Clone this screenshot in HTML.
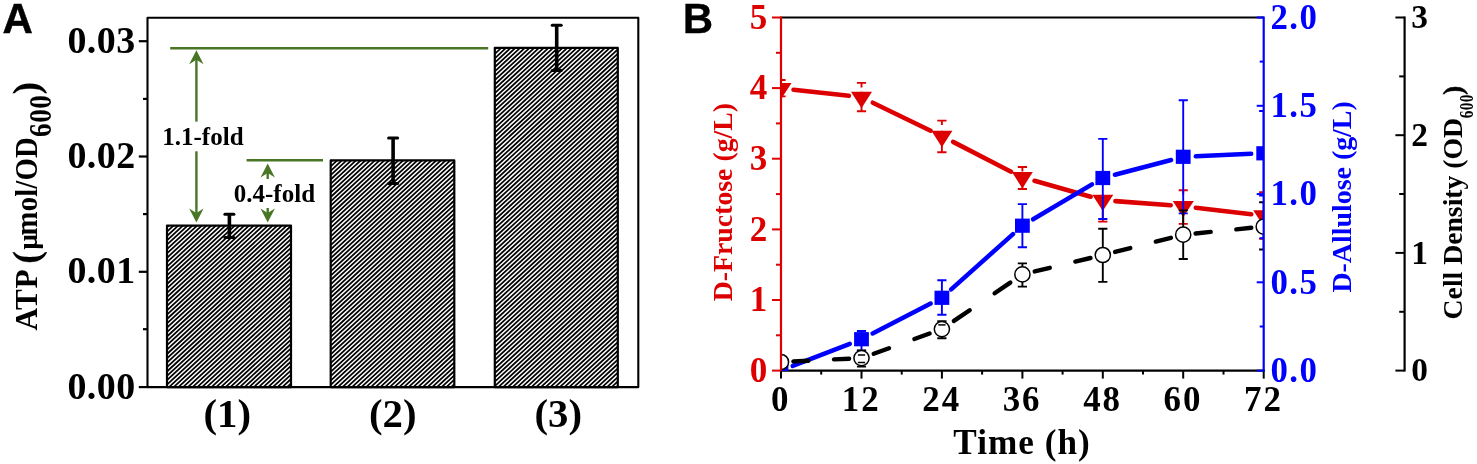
<!DOCTYPE html>
<html lang="en"><head><meta charset="utf-8"><title>Figure</title>
<style>
html,body{margin:0;padding:0;background:#fff;}
body{width:1477px;height:464px;overflow:hidden;}
svg{display:block;}
text{font-family:"Liberation Serif","Times New Roman",serif;font-weight:bold;}
.sans{font-family:"Liberation Sans",Arial,sans-serif;font-weight:bold;}
</style></head><body>
<svg width="1477" height="464" viewBox="0 0 1477 464">
<defs>
<clipPath id="clipB"><rect x="781" y="10" width="482.7" height="361"/></clipPath>
</defs>
<rect width="1477" height="464" fill="#fff"/>
<g id="panelA">
<text class="sans" x="2.4" y="32.8" font-size="42" stroke="#000" stroke-width="0.5">A</text>
<rect x="167" y="225.6" width="124.0" height="161.5" fill="#fff"/>
<path d="M167.0,227.2L168.7,225.6M167.0,231.6L173.5,225.6M167.0,236.0L178.2,225.6M167.0,240.3L182.9,225.6M167.0,244.7L187.6,225.6M167.0,249.1L192.3,225.6M167.0,253.4L197.1,225.6M167.0,257.8L201.8,225.6M167.0,262.2L206.5,225.6M167.0,266.6L211.2,225.6M167.0,270.9L215.9,225.6M167.0,275.3L220.7,225.6M167.0,279.7L225.4,225.6M167.0,284.0L230.1,225.6M167.0,288.4L234.8,225.6M167.0,292.8L239.5,225.6M167.0,297.1L244.3,225.6M167.0,301.5L249.0,225.6M167.0,305.9L253.7,225.6M167.0,310.3L258.4,225.6M167.0,314.6L263.1,225.6M167.0,319.0L267.9,225.6M167.0,323.4L272.6,225.6M167.0,327.7L277.3,225.6M167.0,332.1L282.0,225.6M167.0,336.5L286.7,225.6M167.0,340.9L291.0,226.0M167.0,345.2L291.0,230.4M167.0,349.6L291.0,234.8M167.0,354.0L291.0,239.1M167.0,358.3L291.0,243.5M167.0,362.7L291.0,247.9M167.0,367.1L291.0,252.3M167.0,371.5L291.0,256.6M167.0,375.8L291.0,261.0M167.0,380.2L291.0,265.4M167.0,384.6L291.0,269.7M169.0,387.1L291.0,274.1M173.7,387.1L291.0,278.5M178.4,387.1L291.0,282.9M183.1,387.1L291.0,287.2M187.9,387.1L291.0,291.6M192.6,387.1L291.0,296.0M197.3,387.1L291.0,300.3M202.0,387.1L291.0,304.7M206.7,387.1L291.0,309.1M211.5,387.1L291.0,313.4M216.2,387.1L291.0,317.8M220.9,387.1L291.0,322.2M225.6,387.1L291.0,326.6M230.3,387.1L291.0,330.9M235.1,387.1L291.0,335.3M239.8,387.1L291.0,339.7M244.5,387.1L291.0,344.0M249.2,387.1L291.0,348.4M253.9,387.1L291.0,352.8M258.7,387.1L291.0,357.2M263.4,387.1L291.0,361.5M268.1,387.1L291.0,365.9M272.8,387.1L291.0,370.3M277.5,387.1L291.0,374.6M282.3,387.1L291.0,379.0M287.0,387.1L291.0,383.4" stroke="#000" stroke-width="1.75" fill="none"/>
<rect x="167" y="225.6" width="124.0" height="161.5" fill="none" stroke="#000" stroke-width="2.2" stroke-linejoin="round"/>
<rect x="330.7" y="160.4" width="123.6" height="226.7" fill="#fff"/>
<path d="M330.7,162.0L332.4,160.4M330.7,166.4L337.2,160.4M330.7,170.8L341.9,160.4M330.7,175.1L346.6,160.4M330.7,179.5L351.3,160.4M330.7,183.9L356.0,160.4M330.7,188.2L360.8,160.4M330.7,192.6L365.5,160.4M330.7,197.0L370.2,160.4M330.7,201.4L374.9,160.4M330.7,205.7L379.6,160.4M330.7,210.1L384.4,160.4M330.7,214.5L389.1,160.4M330.7,218.8L393.8,160.4M330.7,223.2L398.5,160.4M330.7,227.6L403.2,160.4M330.7,231.9L408.0,160.4M330.7,236.3L412.7,160.4M330.7,240.7L417.4,160.4M330.7,245.1L422.1,160.4M330.7,249.4L426.8,160.4M330.7,253.8L431.6,160.4M330.7,258.2L436.3,160.4M330.7,262.5L441.0,160.4M330.7,266.9L445.7,160.4M330.7,271.3L450.4,160.4M330.7,275.7L454.3,161.2M330.7,280.0L454.3,165.6M330.7,284.4L454.3,169.9M330.7,288.8L454.3,174.3M330.7,293.1L454.3,178.7M330.7,297.5L454.3,183.1M330.7,301.9L454.3,187.4M330.7,306.3L454.3,191.8M330.7,310.6L454.3,196.2M330.7,315.0L454.3,200.5M330.7,319.4L454.3,204.9M330.7,323.7L454.3,209.3M330.7,328.1L454.3,213.7M330.7,332.5L454.3,218.0M330.7,336.8L454.3,222.4M330.7,341.2L454.3,226.8M330.7,345.6L454.3,231.1M330.7,350.0L454.3,235.5M330.7,354.3L454.3,239.9M330.7,358.7L454.3,244.2M330.7,363.1L454.3,248.6M330.7,367.4L454.3,253.0M330.7,371.8L454.3,257.4M330.7,376.2L454.3,261.7M330.7,380.6L454.3,266.1M330.7,384.9L454.3,270.5M333.1,387.1L454.3,274.8M337.8,387.1L454.3,279.2M342.5,387.1L454.3,283.6M347.2,387.1L454.3,288.0M352.0,387.1L454.3,292.3M356.7,387.1L454.3,296.7M361.4,387.1L454.3,301.1M366.1,387.1L454.3,305.4M370.8,387.1L454.3,309.8M375.6,387.1L454.3,314.2M380.3,387.1L454.3,318.5M385.0,387.1L454.3,322.9M389.7,387.1L454.3,327.3M394.4,387.1L454.3,331.7M399.2,387.1L454.3,336.0M403.9,387.1L454.3,340.4M408.6,387.1L454.3,344.8M413.3,387.1L454.3,349.1M418.0,387.1L454.3,353.5M422.8,387.1L454.3,357.9M427.5,387.1L454.3,362.3M432.2,387.1L454.3,366.6M436.9,387.1L454.3,371.0M441.6,387.1L454.3,375.4M446.4,387.1L454.3,379.7M451.1,387.1L454.3,384.1" stroke="#000" stroke-width="1.75" fill="none"/>
<rect x="330.7" y="160.4" width="123.6" height="226.7" fill="none" stroke="#000" stroke-width="2.2" stroke-linejoin="round"/>
<rect x="494.8" y="47.9" width="123.0" height="339.2" fill="#fff"/>
<path d="M494.8,49.5L496.5,47.9M494.8,53.9L501.3,47.9M494.8,58.3L506.0,47.9M494.8,62.6L510.7,47.9M494.8,67.0L515.4,47.9M494.8,71.4L520.1,47.9M494.8,75.7L524.9,47.9M494.8,80.1L529.6,47.9M494.8,84.5L534.3,47.9M494.8,88.9L539.0,47.9M494.8,93.2L543.7,47.9M494.8,97.6L548.5,47.9M494.8,102.0L553.2,47.9M494.8,106.3L557.9,47.9M494.8,110.7L562.6,47.9M494.8,115.1L567.3,47.9M494.8,119.4L572.1,47.9M494.8,123.8L576.8,47.9M494.8,128.2L581.5,47.9M494.8,132.6L586.2,47.9M494.8,136.9L590.9,47.9M494.8,141.3L595.7,47.9M494.8,145.7L600.4,47.9M494.8,150.0L605.1,47.9M494.8,154.4L609.8,47.9M494.8,158.8L614.5,47.9M494.8,163.2L617.8,49.3M494.8,167.5L617.8,53.6M494.8,171.9L617.8,58.0M494.8,176.3L617.8,62.4M494.8,180.6L617.8,66.7M494.8,185.0L617.8,71.1M494.8,189.4L617.8,75.5M494.8,193.8L617.8,79.9M494.8,198.1L617.8,84.2M494.8,202.5L617.8,88.6M494.8,206.9L617.8,93.0M494.8,211.2L617.8,97.3M494.8,215.6L617.8,101.7M494.8,220.0L617.8,106.1M494.8,224.3L617.8,110.4M494.8,228.7L617.8,114.8M494.8,233.1L617.8,119.2M494.8,237.5L617.8,123.6M494.8,241.8L617.8,127.9M494.8,246.2L617.8,132.3M494.8,250.6L617.8,136.7M494.8,254.9L617.8,141.0M494.8,259.3L617.8,145.4M494.8,263.7L617.8,149.8M494.8,268.1L617.8,154.2M494.8,272.4L617.8,158.5M494.8,276.8L617.8,162.9M494.8,281.2L617.8,167.3M494.8,285.5L617.8,171.6M494.8,289.9L617.8,176.0M494.8,294.3L617.8,180.4M494.8,298.7L617.8,184.8M494.8,303.0L617.8,189.1M494.8,307.4L617.8,193.5M494.8,311.8L617.8,197.9M494.8,316.1L617.8,202.2M494.8,320.5L617.8,206.6M494.8,324.9L617.8,211.0M494.8,329.2L617.8,215.3M494.8,333.6L617.8,219.7M494.8,338.0L617.8,224.1M494.8,342.4L617.8,228.5M494.8,346.7L617.8,232.8M494.8,351.1L617.8,237.2M494.8,355.5L617.8,241.6M494.8,359.8L617.8,245.9M494.8,364.2L617.8,250.3M494.8,368.6L617.8,254.7M494.8,373.0L617.8,259.1M494.8,377.3L617.8,263.4M494.8,381.7L617.8,267.8M494.8,386.1L617.8,272.2M498.4,387.1L617.8,276.5M503.1,387.1L617.8,280.9M507.8,387.1L617.8,285.3M512.6,387.1L617.8,289.7M517.3,387.1L617.8,294.0M522.0,387.1L617.8,298.4M526.7,387.1L617.8,302.8M531.4,387.1L617.8,307.1M536.2,387.1L617.8,311.5M540.9,387.1L617.8,315.9M545.6,387.1L617.8,320.2M550.3,387.1L617.8,324.6M555.0,387.1L617.8,329.0M559.8,387.1L617.8,333.4M564.5,387.1L617.8,337.7M569.2,387.1L617.8,342.1M573.9,387.1L617.8,346.5M578.6,387.1L617.8,350.8M583.4,387.1L617.8,355.2M588.1,387.1L617.8,359.6M592.8,387.1L617.8,364.0M597.5,387.1L617.8,368.3M602.2,387.1L617.8,372.7M607.0,387.1L617.8,377.1M611.7,387.1L617.8,381.4M616.4,387.1L617.8,385.8" stroke="#000" stroke-width="1.75" fill="none"/>
<rect x="494.8" y="47.9" width="123.0" height="339.2" fill="none" stroke="#000" stroke-width="2.2" stroke-linejoin="round"/>
<rect x="147.5" y="17.8" width="490.8" height="369.3" fill="none" stroke="#000" stroke-width="2.1" stroke-linejoin="round"/>
<line x1="138.8" y1="41.2" x2="147.5" y2="41.2" stroke="#000" stroke-width="2.2"/>
<line x1="138.8" y1="156.5" x2="147.5" y2="156.5" stroke="#000" stroke-width="2.2"/>
<line x1="138.8" y1="271.8" x2="147.5" y2="271.8" stroke="#000" stroke-width="2.2"/>
<line x1="138.8" y1="387.1" x2="147.5" y2="387.1" stroke="#000" stroke-width="2.2"/>
<line x1="143" y1="98.9" x2="147.5" y2="98.9" stroke="#000" stroke-width="2.2"/>
<line x1="143" y1="214.1" x2="147.5" y2="214.1" stroke="#000" stroke-width="2.2"/>
<line x1="143" y1="329.2" x2="147.5" y2="329.2" stroke="#000" stroke-width="2.2"/>
<text transform="translate(135.6,52.8) scale(1.025,1)" font-size="37" text-anchor="end" letter-spacing="0.45">0.03</text>
<text transform="translate(135.6,168.1) scale(1.025,1)" font-size="37" text-anchor="end" letter-spacing="0.45">0.02</text>
<text transform="translate(135.6,283.4) scale(1.025,1)" font-size="37" text-anchor="end" letter-spacing="0.45">0.01</text>
<text transform="translate(135.6,398.7) scale(1.025,1)" font-size="37" text-anchor="end" letter-spacing="0.45">0.00</text>
<text x="227.2" y="426.7" font-size="40.8" text-anchor="middle">(1)</text>
<text x="392.8" y="426.7" font-size="40.8" text-anchor="middle">(2)</text>
<text x="558.3" y="426.7" font-size="40.8" text-anchor="middle">(3)</text>
<line x1="229.4" y1="214.3" x2="229.4" y2="237.6" stroke="#000" stroke-width="3.6"/>
<line x1="224.9" y1="214.3" x2="233.9" y2="214.3" stroke="#000" stroke-width="3" stroke-linecap="round"/>
<line x1="224.9" y1="237.6" x2="233.9" y2="237.6" stroke="#000" stroke-width="3" stroke-linecap="round"/>
<line x1="393.1" y1="138" x2="393.1" y2="183.6" stroke="#000" stroke-width="3.6"/>
<line x1="388.6" y1="138" x2="397.6" y2="138" stroke="#000" stroke-width="3" stroke-linecap="round"/>
<line x1="388.6" y1="183.6" x2="397.6" y2="183.6" stroke="#000" stroke-width="3" stroke-linecap="round"/>
<line x1="556.7" y1="25.2" x2="556.7" y2="70.6" stroke="#000" stroke-width="3.6"/>
<line x1="552.2" y1="25.2" x2="561.2" y2="25.2" stroke="#000" stroke-width="3" stroke-linecap="round"/>
<line x1="552.2" y1="70.6" x2="561.2" y2="70.6" stroke="#000" stroke-width="3" stroke-linecap="round"/>
<line x1="170.2" y1="48.3" x2="488.2" y2="48.3" stroke="#487625" stroke-width="2.4"/>
<line x1="246.6" y1="160.2" x2="323" y2="160.2" stroke="#487625" stroke-width="2.4"/>
<line x1="196.4" y1="58" x2="196.4" y2="121.6" stroke="#487625" stroke-width="2.4"/>
<line x1="196.4" y1="151.3" x2="196.4" y2="214" stroke="#487625" stroke-width="2.4"/>
<polygon points="196.4,50.2 189.2,64.2 196.4,59.7 203.6,64.2" fill="#487625"/>
<polygon points="196.4,222.5 189.2,208.5 196.4,213.0 203.6,208.5" fill="#487625"/>
<line x1="267.7" y1="170" x2="267.7" y2="179" stroke="#487625" stroke-width="2.4"/>
<line x1="267.7" y1="208" x2="267.7" y2="214" stroke="#487625" stroke-width="2.4"/>
<polygon points="267.7,163.5 260.5,177.5 267.7,173.0 274.9,177.5" fill="#487625"/>
<polygon points="267.7,222.5 260.5,208.5 267.7,213.0 274.9,208.5" fill="#487625"/>
<text x="162.3" y="144.6" font-size="25">1.1-fold</text>
<text x="233.8" y="201.6" font-size="25">0.4-fold</text>
<g transform="translate(36.8,330.6) rotate(-90)">
<text x="0" y="0" font-size="31.2" letter-spacing="0.5">ATP</text>
<text transform="translate(66.8,1.8)" font-size="38" font-weight="normal" stroke="#000" stroke-width="0.15">(</text>
<text x="81.2" y="0" font-size="27" font-weight="normal">μ</text>
<text transform="translate(95.2,0.6) scale(0.955,1.03)" font-size="30" letter-spacing="0.2">mol/OD</text>
<text transform="translate(193.6,14.6) scale(0.88,1)" font-size="31" letter-spacing="0.6">600</text>
<text transform="translate(236.2,1.8)" font-size="38" font-weight="normal" stroke="#000" stroke-width="0.15">)</text>
</g>
</g>
<g id="panelB">
<text class="sans" x="682.7" y="32.8" font-size="42" stroke="#000" stroke-width="0.3">B</text>
<line x1="781.0" y1="17.5" x2="1263.7" y2="17.5" stroke="#000" stroke-width="1.8"/>
<line x1="780.0" y1="370.6" x2="1264.7" y2="370.6" stroke="#000" stroke-width="2.2"/>
<line x1="781.0" y1="370.6" x2="781.0" y2="378.6" stroke="#000" stroke-width="2"/>
<line x1="821.2" y1="370.6" x2="821.2" y2="374.6" stroke="#000" stroke-width="2"/>
<line x1="861.5" y1="370.6" x2="861.5" y2="378.6" stroke="#000" stroke-width="2"/>
<line x1="901.7" y1="370.6" x2="901.7" y2="374.6" stroke="#000" stroke-width="2"/>
<line x1="941.9" y1="370.6" x2="941.9" y2="378.6" stroke="#000" stroke-width="2"/>
<line x1="982.1" y1="370.6" x2="982.1" y2="374.6" stroke="#000" stroke-width="2"/>
<line x1="1022.4" y1="370.6" x2="1022.4" y2="378.6" stroke="#000" stroke-width="2"/>
<line x1="1062.6" y1="370.6" x2="1062.6" y2="374.6" stroke="#000" stroke-width="2"/>
<line x1="1102.8" y1="370.6" x2="1102.8" y2="378.6" stroke="#000" stroke-width="2"/>
<line x1="1143.0" y1="370.6" x2="1143.0" y2="374.6" stroke="#000" stroke-width="2"/>
<line x1="1183.2" y1="370.6" x2="1183.2" y2="378.6" stroke="#000" stroke-width="2"/>
<line x1="1223.5" y1="370.6" x2="1223.5" y2="374.6" stroke="#000" stroke-width="2"/>
<line x1="1263.7" y1="370.6" x2="1263.7" y2="378.6" stroke="#000" stroke-width="2"/>
<text x="780.8" y="410.9" font-size="34.9" text-anchor="middle" letter-spacing="2.0">0</text>
<text x="861.2" y="410.9" font-size="34.9" text-anchor="middle" letter-spacing="2.0">12</text>
<text x="941.7" y="410.9" font-size="34.9" text-anchor="middle" letter-spacing="2.0">24</text>
<text x="1022.1" y="410.9" font-size="34.9" text-anchor="middle" letter-spacing="2.0">36</text>
<text x="1102.6" y="410.9" font-size="34.9" text-anchor="middle" letter-spacing="2.0">48</text>
<text x="1183.0" y="410.9" font-size="34.9" text-anchor="middle" letter-spacing="2.0">60</text>
<text x="1263.5" y="410.9" font-size="34.9" text-anchor="middle" letter-spacing="2.0">72</text>
<text x="1022" y="453.8" font-size="35.2" text-anchor="middle" letter-spacing="1.0">Time (h)</text>
<g clip-path="url(#clipB)">
<line x1="793.5" y1="89.7" x2="848.9" y2="95.8" stroke="#dd0000" stroke-width="4.6" stroke-linecap="round"/>
<line x1="872.8" y1="102.7" x2="930.6" y2="130.7" stroke="#dd0000" stroke-width="4.6" stroke-linecap="round"/>
<line x1="953.1" y1="141.9" x2="1011.1" y2="171.7" stroke="#dd0000" stroke-width="4.6" stroke-linecap="round"/>
<line x1="1034.5" y1="180.8" x2="1090.7" y2="196.7" stroke="#dd0000" stroke-width="4.6" stroke-linecap="round"/>
<line x1="1115.4" y1="201.1" x2="1170.7" y2="205.3" stroke="#dd0000" stroke-width="4.6" stroke-linecap="round"/>
<line x1="1195.8" y1="207.7" x2="1251.2" y2="214.2" stroke="#dd0000" stroke-width="4.6" stroke-linecap="round"/>
<path d="M781.0,80 V82.9 M781.0,82.9 V96.4 M776.4,80 H785.6 M776.4,96.4 H785.6" stroke="#dd0000" stroke-width="1.9" fill="none"/>
<path d="M861.5,82.9 V87.4 M861.5,91.8 V111.2 M856.9,82.9 H866.1 M856.9,111.2 H866.1" stroke="#dd0000" stroke-width="1.9" fill="none"/>
<path d="M941.9,120.6 V125.1 M941.9,130.8 V152.2 M937.3,120.6 H946.5 M937.3,152.2 H946.5" stroke="#dd0000" stroke-width="1.9" fill="none"/>
<path d="M1022.4,167 V171.5 M1022.4,172.0 V189 M1017.8,167 H1027.0 M1017.8,189 H1027.0" stroke="#dd0000" stroke-width="1.9" fill="none"/>
<path d="M1102.8,178.4 V182.9 M1102.8,194.7 V221.6 M1098.2,178.4 H1107.4 M1098.2,221.6 H1107.4" stroke="#dd0000" stroke-width="1.9" fill="none"/>
<path d="M1183.2,190.2 V194.7 M1183.2,200.9 V223.9 M1178.7,190.2 H1187.8 M1178.7,223.9 H1187.8" stroke="#dd0000" stroke-width="1.9" fill="none"/>
<path d="M1263.7,192.3 V196.8 M1263.7,210.2 V238.7 M1259.1,192.3 H1268.3 M1259.1,238.7 H1268.3" stroke="#dd0000" stroke-width="1.9" fill="none"/>
<polygon points="770.5,82.9 791.5,82.9 781.0,99.3" fill="#dd0000"/>
<polygon points="851.0,91.8 872.0,91.8 861.5,108.2" fill="#dd0000"/>
<polygon points="931.4,130.8 952.4,130.8 941.9,147.2" fill="#dd0000"/>
<polygon points="1011.9,172.0 1032.8,172.0 1022.4,188.4" fill="#dd0000"/>
<polygon points="1092.3,194.7 1113.3,194.7 1102.8,211.1" fill="#dd0000"/>
<polygon points="1172.8,200.9 1193.8,200.9 1183.2,217.3" fill="#dd0000"/>
<polygon points="1253.2,210.2 1274.2,210.2 1263.7,226.6" fill="#dd0000"/>
<line x1="792.7" y1="365.9" x2="849.8" y2="343.8" stroke="#0000ff" stroke-width="4.5" stroke-linecap="round"/>
<line x1="872.6" y1="333.5" x2="930.7" y2="303.5" stroke="#0000ff" stroke-width="4.5" stroke-linecap="round"/>
<line x1="951.2" y1="289.4" x2="1013.0" y2="234.1" stroke="#0000ff" stroke-width="4.5" stroke-linecap="round"/>
<line x1="1033.1" y1="219.3" x2="1092.0" y2="184.4" stroke="#0000ff" stroke-width="4.5" stroke-linecap="round"/>
<line x1="1114.9" y1="174.8" x2="1171.1" y2="160.0" stroke="#0000ff" stroke-width="4.5" stroke-linecap="round"/>
<line x1="1195.8" y1="156.3" x2="1251.2" y2="153.8" stroke="#0000ff" stroke-width="4.5" stroke-linecap="round"/>
<path d="M861.5,331 V350.6 M856.9,331 H866.1 M856.9,350.6 H866.1" stroke="#0000ff" stroke-width="1.9" fill="none"/>
<path d="M941.9,280.2 V314.7 M937.3,280.2 H946.5 M937.3,314.7 H946.5" stroke="#0000ff" stroke-width="1.9" fill="none"/>
<path d="M1022.4,204.1 V247.3 M1017.8,204.1 H1027.0 M1017.8,247.3 H1027.0" stroke="#0000ff" stroke-width="1.9" fill="none"/>
<path d="M1102.8,138.9 V219 M1098.2,138.9 H1107.4 M1098.2,219 H1107.4" stroke="#0000ff" stroke-width="1.9" fill="none"/>
<path d="M1183.2,100.2 V213.4 M1178.7,100.2 H1187.8 M1178.7,213.4 H1187.8" stroke="#0000ff" stroke-width="1.9" fill="none"/>
<path d="M1263.7,111 V195.6 M1259.1,111 H1268.3 M1259.1,195.6 H1268.3" stroke="#0000ff" stroke-width="1.9" fill="none"/>
<rect x="773.6" y="363.4" width="14.8" height="14.2" fill="#0000ff"/>
<rect x="854.1" y="332.1" width="14.8" height="14.2" fill="#0000ff"/>
<rect x="934.5" y="290.7" width="14.8" height="14.2" fill="#0000ff"/>
<rect x="1015.0" y="218.6" width="14.8" height="14.2" fill="#0000ff"/>
<rect x="1095.4" y="170.9" width="14.8" height="14.2" fill="#0000ff"/>
<rect x="1175.8" y="149.7" width="14.8" height="14.2" fill="#0000ff"/>
<rect x="1256.3" y="146.2" width="14.8" height="14.2" fill="#0000ff"/>
<line x1="793.4" y1="361.4" x2="808.4" y2="360.7" stroke="#000" stroke-width="4.4" stroke-linecap="round"/>
<line x1="834.0" y1="359.4" x2="849.1" y2="358.7" stroke="#000" stroke-width="4.4" stroke-linecap="round"/>
<line x1="873.7" y1="353.7" x2="889.0" y2="348.2" stroke="#000" stroke-width="4.4" stroke-linecap="round"/>
<line x1="914.4" y1="339.0" x2="929.6" y2="333.5" stroke="#000" stroke-width="4.4" stroke-linecap="round"/>
<line x1="953.9" y1="320.9" x2="969.7" y2="310.2" stroke="#000" stroke-width="4.4" stroke-linecap="round"/>
<line x1="994.6" y1="293.3" x2="1010.3" y2="282.6" stroke="#000" stroke-width="4.4" stroke-linecap="round"/>
<line x1="1034.7" y1="271.4" x2="1049.8" y2="267.8" stroke="#000" stroke-width="4.4" stroke-linecap="round"/>
<line x1="1075.3" y1="261.6" x2="1090.5" y2="258.0" stroke="#000" stroke-width="4.4" stroke-linecap="round"/>
<line x1="1115.1" y1="251.9" x2="1130.3" y2="248.1" stroke="#000" stroke-width="4.4" stroke-linecap="round"/>
<line x1="1155.8" y1="241.6" x2="1170.9" y2="237.8" stroke="#000" stroke-width="4.4" stroke-linecap="round"/>
<line x1="1195.6" y1="233.5" x2="1210.7" y2="231.9" stroke="#000" stroke-width="4.4" stroke-linecap="round"/>
<line x1="1236.3" y1="229.4" x2="1251.3" y2="227.8" stroke="#000" stroke-width="4.4" stroke-linecap="round"/>
<path d="M861.5,350.4 V366.6 M856.9,350.4 H866.1 M856.9,366.6 H866.1" stroke="#000" stroke-width="1.9" fill="none"/>
<path d="M941.9,321.3 V338.2 M937.3,321.3 H946.5 M937.3,338.2 H946.5" stroke="#000" stroke-width="1.9" fill="none"/>
<path d="M1022.4,263.4 V286.6 M1017.8,263.4 H1027.0 M1017.8,286.6 H1027.0" stroke="#000" stroke-width="1.9" fill="none"/>
<path d="M1102.8,228.7 V281.9 M1098.2,228.7 H1107.4 M1098.2,281.9 H1107.4" stroke="#000" stroke-width="1.9" fill="none"/>
<path d="M1183.2,210.4 V259 M1178.7,210.4 H1187.8 M1178.7,259 H1187.8" stroke="#000" stroke-width="1.9" fill="none"/>
<path d="M1263.7,202.3 V249.5 M1259.1,202.3 H1268.3 M1259.1,249.5 H1268.3" stroke="#000" stroke-width="1.9" fill="none"/>
<circle cx="781.0" cy="362.0" r="7.6" fill="#fff" stroke="#000" stroke-width="1.5"/>
<circle cx="861.5" cy="358.1" r="7.6" fill="#fff" stroke="#000" stroke-width="1.5"/>
<path d="M857.9,355 H865.1 M857.9,362.5 H865.1" stroke="#000" stroke-width="1.5"/>
<circle cx="941.9" cy="329.1" r="7.6" fill="#fff" stroke="#000" stroke-width="1.5"/>
<path d="M938.3,324.9 H945.5" stroke="#000" stroke-width="1.5"/>
<circle cx="1022.4" cy="274.4" r="7.6" fill="#fff" stroke="#000" stroke-width="1.5"/>
<circle cx="1102.8" cy="255.0" r="7.6" fill="#fff" stroke="#000" stroke-width="1.5"/>
<circle cx="1183.2" cy="234.7" r="7.6" fill="#fff" stroke="#000" stroke-width="1.5"/>
<circle cx="1263.7" cy="226.6" r="7.6" fill="#fff" stroke="#000" stroke-width="1.5"/>
</g>
<line x1="781.0" y1="16.6" x2="781.0" y2="370.6" stroke="#dd0000" stroke-width="2.2"/>
<line x1="772.0" y1="370.6" x2="781.0" y2="370.6" stroke="#dd0000" stroke-width="2"/>
<line x1="776.0" y1="335.3" x2="781.0" y2="335.3" stroke="#dd0000" stroke-width="2"/>
<line x1="772.0" y1="300.0" x2="781.0" y2="300.0" stroke="#dd0000" stroke-width="2"/>
<line x1="776.0" y1="264.7" x2="781.0" y2="264.7" stroke="#dd0000" stroke-width="2"/>
<line x1="772.0" y1="229.4" x2="781.0" y2="229.4" stroke="#dd0000" stroke-width="2"/>
<line x1="776.0" y1="194.1" x2="781.0" y2="194.1" stroke="#dd0000" stroke-width="2"/>
<line x1="772.0" y1="158.7" x2="781.0" y2="158.7" stroke="#dd0000" stroke-width="2"/>
<line x1="776.0" y1="123.4" x2="781.0" y2="123.4" stroke="#dd0000" stroke-width="2"/>
<line x1="772.0" y1="88.1" x2="781.0" y2="88.1" stroke="#dd0000" stroke-width="2"/>
<line x1="776.0" y1="52.8" x2="781.0" y2="52.8" stroke="#dd0000" stroke-width="2"/>
<line x1="772.0" y1="17.5" x2="781.0" y2="17.5" stroke="#dd0000" stroke-width="2"/>
<text x="767.3" y="381.7" font-size="35" text-anchor="end" fill="#dd0000">0</text>
<text x="767.3" y="311.1" font-size="35" text-anchor="end" fill="#dd0000">1</text>
<text x="767.3" y="240.5" font-size="35" text-anchor="end" fill="#dd0000">2</text>
<text x="767.3" y="169.8" font-size="35" text-anchor="end" fill="#dd0000">3</text>
<text x="767.3" y="99.2" font-size="35" text-anchor="end" fill="#dd0000">4</text>
<text x="767.3" y="28.6" font-size="35" text-anchor="end" fill="#dd0000">5</text>
<text transform="translate(731.7,301.3) rotate(-90)" font-size="27.8" fill="#dd0000">D-Fructose (g/L)</text>
<line x1="1263.7" y1="16.6" x2="1263.7" y2="371.5" stroke="#0000ff" stroke-width="2.2"/>
<line x1="1256.7" y1="370.6" x2="1263.7" y2="370.6" stroke="#0000ff" stroke-width="2"/>
<line x1="1259.7" y1="326.5" x2="1263.7" y2="326.5" stroke="#0000ff" stroke-width="2"/>
<line x1="1256.7" y1="282.3" x2="1263.7" y2="282.3" stroke="#0000ff" stroke-width="2"/>
<line x1="1259.7" y1="238.2" x2="1263.7" y2="238.2" stroke="#0000ff" stroke-width="2"/>
<line x1="1256.7" y1="194.1" x2="1263.7" y2="194.1" stroke="#0000ff" stroke-width="2"/>
<line x1="1259.7" y1="149.9" x2="1263.7" y2="149.9" stroke="#0000ff" stroke-width="2"/>
<line x1="1256.7" y1="105.8" x2="1263.7" y2="105.8" stroke="#0000ff" stroke-width="2"/>
<line x1="1259.7" y1="61.6" x2="1263.7" y2="61.6" stroke="#0000ff" stroke-width="2"/>
<line x1="1256.7" y1="17.5" x2="1263.7" y2="17.5" stroke="#0000ff" stroke-width="2"/>
<text x="1270.5" y="381.8" font-size="34.8" fill="#0000ff" letter-spacing="1.4">0.0</text>
<text x="1270.5" y="293.5" font-size="34.8" fill="#0000ff" letter-spacing="1.4">0.5</text>
<text x="1270.5" y="205.2" font-size="34.8" fill="#0000ff" letter-spacing="1.4">1.0</text>
<text x="1270.5" y="117.0" font-size="34.8" fill="#0000ff" letter-spacing="1.4">1.5</text>
<text x="1270.5" y="28.7" font-size="34.8" fill="#0000ff" letter-spacing="1.4">2.0</text>
<text transform="translate(1350.5,292.6) rotate(-90)" font-size="27.9" fill="#0000ff">D-Allulose (g/L)</text>
<line x1="1404.6" y1="16.6" x2="1404.6" y2="371.5" stroke="#000" stroke-width="2.2"/>
<line x1="1395.3999999999999" y1="370.6" x2="1404.6" y2="370.6" stroke="#000" stroke-width="2"/>
<line x1="1399.1999999999998" y1="311.8" x2="1404.6" y2="311.8" stroke="#000" stroke-width="2"/>
<line x1="1395.3999999999999" y1="252.9" x2="1404.6" y2="252.9" stroke="#000" stroke-width="2"/>
<line x1="1399.1999999999998" y1="194.0" x2="1404.6" y2="194.0" stroke="#000" stroke-width="2"/>
<line x1="1395.3999999999999" y1="135.2" x2="1404.6" y2="135.2" stroke="#000" stroke-width="2"/>
<line x1="1399.1999999999998" y1="76.4" x2="1404.6" y2="76.4" stroke="#000" stroke-width="2"/>
<line x1="1395.3999999999999" y1="17.5" x2="1404.6" y2="17.5" stroke="#000" stroke-width="2"/>
<text x="1411.3" y="381.2" font-size="33.4">0</text>
<text x="1411.3" y="263.5" font-size="33.4">1</text>
<text x="1411.3" y="145.8" font-size="33.4">2</text>
<text x="1411.3" y="28.1" font-size="33.4">3</text>
<g transform="translate(1462.3,319.4) rotate(-90)">
<text x="0" y="0" font-size="27.7">Cell Density (OD</text>
<text transform="translate(201.2,10.5) scale(0.84,1)" font-size="18.3" letter-spacing="0.3">600</text>
<text x="224.3" y="0" font-size="27.7" font-weight="normal" stroke="#000" stroke-width="0.4">)</text>
</g>
</g>
</svg></body></html>
